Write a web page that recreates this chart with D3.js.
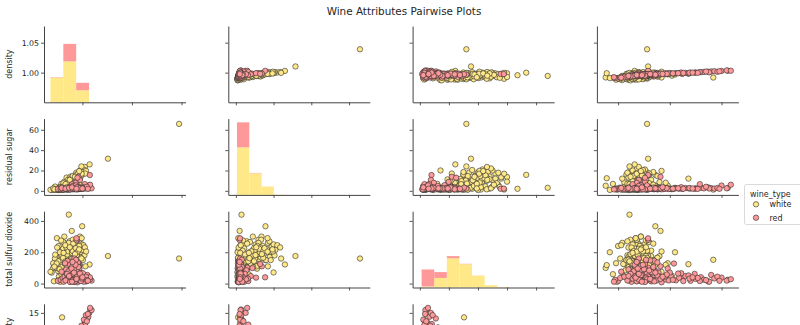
<!DOCTYPE html>
<html><head><meta charset="utf-8">
<script src="https://cdn.jsdelivr.net/npm/d3@7"></script>
<style>
body{margin:0;background:#fff;}
svg{display:block;font-family:"DejaVu Sans",sans-serif;}
</style></head><body>
<svg id="chart" width="800" height="325"></svg>
<script>
// ---------------- data ----------------
const variables = ["density", "residual sugar", "total sulfur dioxide", "fixed acidity"];
const wineTypes = ["white", "red"];
const palette = { white: "#FFE888", red: "#FF9999" };

const axisDomains = [[0.9845, 1.0416], [-4, 71], [-25, 462], [2.95, 16.63]];
const densityRowDomain = [0.9505, 1.0778];
const xTicks = [[1.00, 1.02, 1.04], [0, 20, 40, 60], [0, 100, 200, 300, 400], [5, 10, 15]];
const yTicks = [[1.00, 1.05], [0, 20, 40, 60], [0, 200, 400], [5, 10, 15]];
// the lower fixed-acidity labels (5, 10) fall below the visible window, so only "15" is written
const yTickLabels = [["1.00", "1.05"], ["0", "20", "40", "60"], ["0", "200", "400"], ["", "", "15"]];

// histogram (10 bins over each variable's data range), stacked white then red
const histRanges = [[0.98711, 1.03898], [0.6, 65.8], [6, 440], [3.8, 15.9]];
const histCountMax = 4800;
const histWhite = [
  [1560, 2575, 757, 4, 1, 0, 0, 0, 0, 1],
  [2995, 1358, 522, 20, 2, 0, 0, 0, 0, 1],
  [64, 600, 1840, 1470, 750, 145, 25, 3, 0, 1],
  [50, 1100, 2600, 1000, 130, 15, 2, 0, 1, 0]
];
const histRed = [
  [25, 1100, 468, 6, 0, 0, 0, 0, 0, 0],
  [1570, 25, 4, 0, 0, 0, 0, 0, 0, 0],
  [1070, 370, 135, 20, 2, 0, 2, 0, 0, 0],
  [25, 160, 440, 450, 250, 140, 70, 35, 20, 9]
];

// rows: [density, residual sugar, total sulfur dioxide, fixed acidity]
const whiteWines = [
  [0.9880, 1.0, 95, 6.0], [0.9885, 1.4, 120, 6.6], [0.9892, 1.2, 150, 5.8], [0.9898, 2.0, 110, 7.2],
  [0.9902, 1.6, 80, 6.4], [0.9908, 1.1, 130, 7.0], [0.9912, 2.4, 170, 6.8], [0.9915, 1.5, 100, 7.6],
  [0.9920, 2.8, 140, 6.2], [0.9924, 1.8, 60, 8.0], [0.9928, 3.0, 190, 6.9], [0.9932, 2.2, 115, 7.4],
  [0.9876, 0.9, 70, 5.4], [0.9889, 3.2, 160, 5.2], [0.9905, 0.8, 45, 6.1], [0.9918, 1.3, 210, 6.5],
  [0.9936, 1.7, 135, 8.4], [0.9900, 2.6, 98, 7.8], [0.9926, 1.2, 85, 5.7], [0.9940, 2.0, 155, 7.1],
  [0.9912, 4.5, 120, 6.3], [0.9920, 5.2, 145, 6.8], [0.9928, 6.0, 170, 7.0], [0.9935, 4.8, 130, 7.3],
  [0.9940, 7.2, 200, 6.6], [0.9946, 6.5, 160, 6.9], [0.9950, 8.0, 185, 7.2], [0.9955, 9.0, 215, 6.4],
  [0.9958, 7.6, 140, 7.8], [0.9962, 9.8, 230, 6.7], [0.9930, 5.5, 105, 6.0], [0.9944, 4.2, 250, 7.5],
  [0.9952, 6.8, 175, 8.2], [0.9938, 8.4, 125, 5.6], [0.9965, 10.0, 195, 7.0], [0.9925, 4.0, 90, 6.2],
  [0.9948, 5.8, 270, 6.8], [0.9942, 9.4, 155, 7.6], [0.9957, 5.0, 120, 8.6], [0.9934, 7.0, 180, 5.9],
  [0.9968, 11.0, 175, 6.6], [0.9972, 12.5, 210, 7.0], [0.9975, 13.0, 160, 6.8], [0.9978, 14.2, 240, 7.2],
  [0.9982, 15.0, 190, 6.4], [0.9985, 16.5, 220, 7.4], [0.9988, 17.0, 260, 6.9], [0.9991, 18.2, 200, 7.8],
  [0.9994, 19.0, 235, 6.6], [0.9998, 20.0, 250, 7.0], [0.9970, 11.8, 140, 7.6], [0.9980, 12.0, 280, 6.2],
  [0.9976, 15.6, 150, 8.0], [0.9990, 13.6, 300, 7.2], [0.9984, 18.0, 170, 6.0], [1.0000, 21.0, 215, 7.6],
  [1.0004, 22.0, 245, 6.8], [1.0010, 23.5, 231, 7.0], [1.0029, 26.0, 122, 6.6], [1.0008, 20.5, 180, 7.4],
  [0.9990, 20.0, 71, 6.4], [1.0103, 31.6, 176, 7.9], [1.0390, 65.8, 160, 7.8], [0.9945, 3.0, 440, 6.1],
  [0.9999, 15.7, 366, 8.6], [0.9957, 2.0, 336, 9.1], [0.9897, 1.3, 290, 6.7], [0.9918, 1.2, 152, 14.2],
  [0.9980, 12.0, 124, 11.8], [0.9920, 5.0, 100, 3.8], [0.9990, 12.4, 118, 3.9], [0.9910, 1.0, 11, 4.9],
  [0.9902, 1.2, 20, 6.0], [0.9935, 1.8, 28, 6.4], [0.98711, 1.0, 75, 6.2],
  [0.9893, 1.1, 103, 6.9], [0.9906, 3.5, 125, 5.5], [0.9916, 2.0, 180, 7.3], [0.9922, 4.4, 225, 6.6],
  [0.9933, 1.4, 165, 8.8], [0.9939, 6.2, 96, 6.9], [0.9947, 2.5, 140, 7.0], [0.9953, 10.5, 250, 6.4],
  [0.9961, 13.4, 280, 6.8], [0.9966, 8.6, 175, 9.0], [0.9971, 5.2, 130, 9.8], [0.9979, 16.0, 150, 5.8],
  [0.9983, 10.8, 210, 8.2], [0.9993, 14.5, 165, 8.8], [1.0002, 18.5, 150, 8.4], [1.0015, 19.6, 205, 9.2],
  [0.9904, 2.2, 240, 5.0], [0.9927, 9.0, 300, 7.2], [0.9945, 12.0, 260, 5.4], [0.9960, 11.2, 95, 6.2],
  [0.9915, 6.8, 60, 4.5], [0.9950, 1.6, 50, 10.2], [0.9969, 3.0, 200, 10.5], [0.9986, 8.0, 120, 9.6],
  [0.9909, 0.9, 200, 4.2], [0.9936, 13.0, 230, 6.0], [0.9975, 17.8, 270, 5.9], [0.9996, 24.0, 160, 6.1],
  [1.0012, 17.0, 110, 8.0], [0.9923, 7.5, 265, 8.0], [0.9890, 4.2, 185, 7.4], [0.9955, 3.6, 210, 7.8],
  [0.9942, 11.0, 110, 7.0], [0.9885, 1.1, 15, 6.8], [0.9898, 1.5, 230, 6.3], [0.9914, 3.8, 275, 7.7],
  [0.9931, 2.6, 245, 5.3], [0.9952, 14.0, 190, 7.3], [0.9963, 6.0, 255, 8.4], [0.9974, 9.2, 105, 6.5],
  [0.9987, 11.4, 240, 7.1], [0.9997, 16.8, 290, 6.7], [0.9919, 2.9, 75, 9.2], [0.9943, 3.4, 60, 8.9],
  [0.9882, 2.4, 130, 4.8],
  [0.9911, 1.3, 118, 6.7], [0.9917, 2.1, 132, 7.1], [0.9921, 1.6, 98, 6.5], [0.9927, 3.4, 150, 6.9],
  [0.9931, 4.6, 162, 7.2], [0.9937, 2.9, 112, 6.6], [0.9941, 5.8, 138, 7.0], [0.9945, 7.8, 168, 6.8],
  [0.9949, 6.1, 148, 7.3], [0.9953, 8.9, 178, 6.6], [0.9956, 10.2, 158, 7.0], [0.9959, 11.6, 188, 6.9],
  [0.9963, 12.8, 198, 7.1], [0.9967, 9.6, 143, 6.4], [0.9914, 2.6, 152, 6.0], [0.9919, 3.9, 108, 7.5],
  [0.9929, 1.9, 126, 6.3], [0.9934, 3.1, 176, 7.7], [0.9939, 4.9, 186, 6.2], [0.9943, 8.2, 206, 7.4],
  [0.9951, 4.4, 134, 6.5], [0.9954, 12.4, 222, 7.0], [0.9958, 6.9, 196, 6.7], [0.9961, 14.6, 208, 6.5],
  [0.9973, 15.2, 226, 7.3], [0.9977, 10.4, 182, 6.9], [0.9981, 16.8, 204, 6.8], [0.9987, 19.4, 218, 7.2],
  [0.9903, 1.4, 142, 6.9], [0.9896, 1.9, 128, 6.4], [0.9887, 1.6, 108, 7.0], [0.9908, 2.9, 92, 6.6],
  [0.9922, 1.1, 164, 7.8], [0.9932, 6.6, 142, 6.1], [0.9947, 3.8, 118, 8.0], [0.9964, 7.2, 162, 7.5],
  [0.9970, 13.8, 188, 6.2], [0.9924, 2.3, 196, 6.4], [0.9938, 1.3, 104, 7.3], [0.9949, 10.8, 232, 7.7]
];

const redWines = [
  [0.9950, 1.9, 34, 7.4], [0.9962, 2.2, 52, 7.8], [0.9968, 2.0, 60, 7.8], [0.9978, 1.9, 40, 11.2],
  [0.9948, 2.6, 67, 7.4], [0.9955, 1.8, 102, 7.9], [0.9964, 1.6, 59, 7.3], [0.9946, 1.2, 21, 7.8],
  [0.9958, 2.0, 18, 7.5], [0.9968, 6.1, 102, 6.7], [0.9975, 1.8, 65, 7.5], [0.9980, 2.3, 29, 8.9],
  [0.9940, 1.6, 145, 8.5], [0.9970, 1.9, 148, 8.1], [0.9967, 3.8, 103, 7.4], [0.9982, 3.9, 56, 7.9],
  [0.9960, 1.8, 71, 8.9], [0.9972, 1.7, 37, 7.6], [0.9954, 2.4, 67, 7.9], [0.9978, 2.1, 40, 8.5],
  [0.9946, 1.8, 23, 6.9], [0.9966, 4.4, 11, 6.3], [0.9980, 1.8, 35, 9.4], [0.9974, 2.4, 16, 7.2],
  [0.9986, 2.3, 82, 8.6], [0.9956, 3.0, 114, 7.3], [0.9962, 2.2, 28, 7.1], [0.9990, 2.0, 47, 10.1],
  [0.9942, 1.4, 44, 5.6], [0.9958, 1.9, 65, 7.8],
  [0.9901, 1.8, 18, 5.0], [0.9912, 1.7, 24, 4.7], [0.9920, 1.6, 35, 5.2], [0.9928, 2.1, 44, 5.6],
  [0.9934, 2.0, 90, 6.0], [0.9938, 2.5, 58, 6.4], [0.9924, 1.4, 12, 4.6], [0.9930, 1.9, 130, 6.8],
  [0.9916, 2.8, 76, 5.3], [0.9936, 3.4, 26, 6.1],
  [0.9992, 2.6, 21, 10.6], [0.9996, 2.8, 48, 11.5], [1.0000, 2.2, 18, 12.0], [1.0004, 2.5, 30, 12.5],
  [1.0008, 3.0, 41, 13.0], [1.0012, 2.4, 25, 13.3], [1.0016, 3.4, 14, 13.7], [1.0020, 2.7, 55, 14.0],
  [1.0024, 2.2, 33, 14.3], [1.0028, 5.2, 38, 15.0], [1.0032, 2.8, 24, 15.6], [1.0037, 2.5, 19, 15.5],
  [1.0031, 6.0, 28, 15.9], [0.9998, 1.9, 62, 12.4], [1.0010, 6.6, 16, 12.9], [0.9994, 2.1, 37, 10.9],
  [0.9988, 2.3, 96, 9.8], [1.0002, 3.6, 66, 11.1], [0.9984, 2.0, 128, 10.4], [1.0006, 2.3, 12, 13.8],
  [1.0030, 15.5, 40, 7.9], [0.9984, 13.8, 110, 9.1], [0.9978, 8.8, 99, 7.6], [0.9990, 10.7, 38, 7.0],
  [0.9972, 7.9, 48, 6.8], [0.9962, 5.6, 85, 7.2], [0.9980, 12.9, 125, 7.6], [0.9958, 6.4, 32, 6.4],
  [0.9976, 2.0, 278, 7.9], [0.9976, 2.2, 289, 7.9],
  [0.9968, 2.2, 160, 7.0], [0.9982, 2.4, 135, 8.8], [0.9950, 2.8, 120, 6.6], [0.9974, 3.2, 152, 7.7],
  [0.9960, 1.8, 112, 7.2], [0.9970, 2.0, 42, 9.0], [0.9976, 2.6, 26, 9.6], [0.9966, 1.9, 14, 8.2],
  [0.9984, 2.2, 70, 10.0], [0.9952, 2.2, 46, 6.6], [0.9944, 2.0, 30, 7.0], [0.9958, 2.5, 88, 8.4],
  [0.9986, 1.7, 20, 9.9], [0.9992, 2.4, 52, 11.8], [0.9964, 2.8, 24, 8.6], [0.9996, 1.9, 36, 12.7],
  [1.0014, 2.8, 44, 14.6], [1.0018, 4.0, 22, 13.5], [1.0022, 2.0, 18, 14.8], [0.9980, 1.5, 8, 9.2],
  [0.9962, 1.9, 28, 7.6], [0.9966, 2.1, 34, 8.0], [0.9970, 2.3, 22, 8.3], [0.9958, 2.0, 42, 7.1],
  [0.9954, 1.7, 15, 6.8], [0.9974, 2.5, 50, 8.8], [0.9968, 1.8, 46, 7.9], [0.9964, 2.4, 38, 7.7],
  [0.9978, 2.0, 19, 8.7], [0.9972, 2.2, 74, 8.2], [0.9960, 2.6, 56, 7.3], [0.9956, 1.9, 26, 7.0],
  [0.9948, 2.1, 38, 6.7], [0.9952, 1.6, 54, 7.2], [0.9982, 2.4, 30, 9.1], [0.9986, 2.0, 44, 9.5],
  [0.9976, 1.7, 84, 8.0], [0.9966, 2.7, 92, 7.5], [0.9944, 2.3, 78, 6.5], [0.9938, 1.8, 62, 6.2],
  [0.9932, 2.2, 20, 5.9], [0.9970, 3.0, 14, 8.5], [0.9980, 2.6, 58, 9.7], [0.9988, 2.2, 24, 10.3],
  [0.9994, 2.0, 16, 11.3], [0.9998, 2.7, 32, 11.9], [0.9962, 4.8, 62, 7.0], [0.9974, 5.4, 28, 7.8],
  [0.9984, 3.2, 106, 8.4], [0.9956, 2.3, 96, 6.9], [0.9950, 1.5, 10, 7.6], [0.9972, 1.6, 120, 7.4],
  [0.9960, 2.0, 138, 6.8], [0.9978, 3.6, 44, 9.3], [0.9966, 2.4, 70, 8.6], [0.9946, 2.9, 48, 6.0],
  [0.9990, 2.5, 64, 10.8], [1.0000, 2.3, 40, 12.2], [0.9958, 3.4, 12, 7.3], [0.9976, 2.1, 30, 8.1]
];

// ---------------- layout ----------------
const L0 = 44, COLSTEP = 184.3, PW = 141.5;
const T0 = 26, ROWSTEP = 92.6, PH = 76.3;
const R = 2.7;

const svg = d3.select("#chart");
svg.append("text")
  .attr("x", 404).attr("y", 15).attr("text-anchor", "middle")
  .style("font-size", "10.4px").style("fill", "#262626")
  .text("Wine Attributes Pairwise Plots");

const wineData = { white: whiteWines, red: redWines };

for (let i = 0; i < 4; i++) {
  for (let j = 0; j < 4; j++) {
    const g = svg.append("g").attr("transform", `translate(${L0 + j * COLSTEP},${T0 + i * ROWSTEP})`);
    const x = d3.scaleLinear().domain(axisDomains[j]).range([0, PW]);
    const y = d3.scaleLinear().domain(i === 0 ? densityRowDomain : axisDomains[i]).range([PH, 0]);

    if (i === j) {
      const [lo, hi] = histRanges[i];
      const edges = d3.range(11).map(k => lo + (hi - lo) * k / 10);
      const yc = d3.scaleLinear().domain([0, histCountMax]).range([PH, 0]);
      const bins = d3.range(10).map(k => ({ x0: edges[k], x1: edges[k + 1], w: histWhite[i][k], r: histRed[i][k] }));
      g.selectAll("rect.hw").data(bins).join("rect").attr("class", "hw")
        .attr("x", d => x(d.x0)).attr("width", d => x(d.x1) - x(d.x0))
        .attr("y", d => yc(d.w)).attr("height", d => PH - yc(d.w))
        .attr("fill", palette.white);
      g.selectAll("rect.hr").data(bins).join("rect").attr("class", "hr")
        .attr("x", d => x(d.x0)).attr("width", d => x(d.x1) - x(d.x0))
        .attr("y", d => yc(d.w + d.r)).attr("height", d => yc(d.w) - yc(d.w + d.r))
        .attr("fill", palette.red);
    } else {
      wineTypes.forEach(t => {
        g.append("g").selectAll("circle").data(wineData[t]).join("circle")
          .attr("cx", d => x(d[j])).attr("cy", d => y(d[i])).attr("r", R)
          .attr("fill", palette[t]).attr("stroke", "#2b2b2b").attr("stroke-width", 0.6);
      });
    }

    const ax = g.append("g").attr("transform", `translate(0,${PH})`)
      .call(d3.axisBottom(x).tickValues(xTicks[j]).tickSize(3).tickSizeOuter(0).tickFormat(""));
    const ay = g.append("g")
      .call(d3.axisLeft(y).tickValues(yTicks[i]).tickSize(3).tickSizeOuter(0)
        .tickFormat((d, k) => j === 0 ? yTickLabels[i][k] : ""));
    [ax, ay].forEach(a => {
      a.select(".domain").attr("stroke", "#444").attr("stroke-width", 1);
      a.selectAll(".tick line").attr("stroke", "#444").attr("stroke-width", 0.9);
      a.selectAll(".tick text").style("font-size", "7.8px").style("font-family", "DejaVu Sans").attr("fill", "#262626");
    });
    ay.selectAll(".tick text").attr("x", -5);

    if (j === 0) {
      svg.append("text")
        .attr("transform", `translate(12,${T0 + i * ROWSTEP + PH / 2}) rotate(-90)`)
        .attr("text-anchor", "middle")
        .style("font-size", "8px").style("fill", "#262626")
        .text(variables[i]);
    }
  }
}

// ---------------- legend ----------------
const lg = svg.append("g");
lg.append("rect").attr("x", 744.5).attr("y", 184.5).attr("width", 70).attr("height", 40).attr("rx", 2)
  .attr("fill", "#fff").attr("stroke", "#d0d0d0").attr("stroke-width", 0.8);
lg.append("text").attr("x", 750).attr("y", 196.5).style("font-size", "8px").style("fill", "#262626").text("wine_type");
wineTypes.forEach((t, k) => {
  const cy = 204.3 + k * 13.4;
  lg.append("circle").attr("cx", 756).attr("cy", cy).attr("r", R)
    .attr("fill", palette[t]).attr("stroke", "#2b2b2b").attr("stroke-width", 0.6);
  lg.append("text").attr("x", 769.5).attr("y", cy + 3).style("font-size", "8px").style("fill", "#262626").text(t);
});
</script>
</body></html>
